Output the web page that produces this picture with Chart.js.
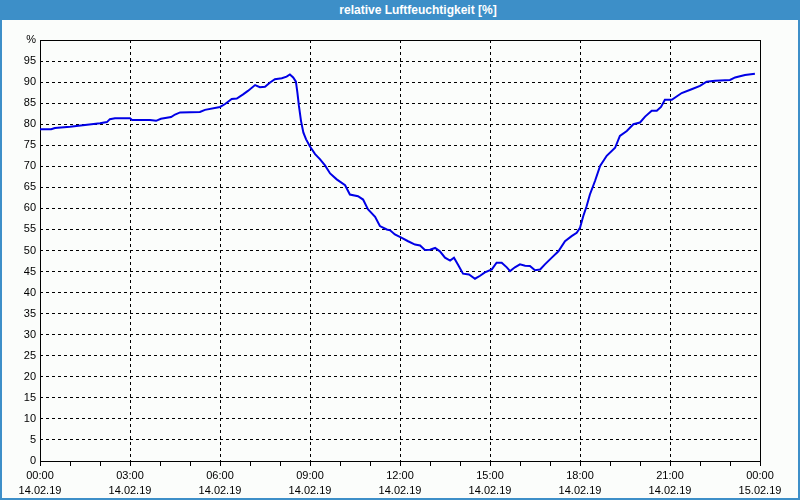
<!DOCTYPE html>
<html>
<head>
<meta charset="utf-8">
<script src="https://cdn.jsdelivr.net/npm/chart.js@4/dist/chart.umd.min.js"></script>
<style>
  html, body { margin: 0; padding: 0; }
  body { width: 800px; height: 500px; background: #3d8fc8; position: relative; overflow: hidden; }
  #titlebar {
    position: absolute; left: 0; top: 0; width: 800px; height: 20px;
    color: #fff; font: bold 12px "Liberation Sans", Arial, sans-serif;
    line-height: 20px; text-align: center; text-indent: 36px;
  }
  #box { position: absolute; left: 2px; top: 20px; width: 796px; height: 478px; background: #fbfdfb; }
</style>
</head>
<body>
<div id="titlebar">relative Luftfeuchtigkeit [%]</div>
<div id="box"><canvas id="humidity" width="796" height="478"></canvas></div>
<script>
// time in hours since 14.02.19 00:00
var hours = [0, 0.37, 0.5, 1, 1.5, 2, 2.23, 2.33, 2.5, 3, 3.07, 3.67, 3.87, 4.03, 4.37, 4.5, 4.67, 5.33, 5.5, 6,
  6.17, 6.39, 6.56, 6.77, 6.93, 7.17, 7.33, 7.5, 7.67, 7.83, 8.06, 8.22, 8.33, 8.44, 8.53, 8.58, 8.63, 8.7, 8.78, 8.87,
  9, 9.17, 9.33, 9.5, 9.67, 9.89, 10.17, 10.33, 10.6, 10.77, 10.93, 11.17, 11.33, 11.56, 11.67, 11.83, 12.06, 12.27, 12.5, 12.67,
  12.83, 13, 13.17, 13.33, 13.5, 13.67, 13.8, 13.93, 14.1, 14.3, 14.5, 14.67, 14.83, 15.06, 15.22, 15.39, 15.56, 15.67, 15.83, 16,
  16.17, 16.33, 16.5, 16.67, 16.83, 17.06, 17.28, 17.5, 17.72, 17.89, 18, 18.11, 18.22, 18.33, 18.5, 18.67, 18.89, 19.17, 19.33, 19.56,
  19.78, 20, 20.17, 20.39, 20.56, 20.7, 20.83, 21.06, 21.39, 21.72, 22, 22.22, 22.5, 23, 23.17, 23.5, 23.83];
var humidity = [78.8, 78.8, 79.1, 79.4, 79.8, 80.2, 80.5, 81.2, 81.4, 81.4, 81.0, 81.0, 80.8, 81.3, 81.7, 82.3, 82.8, 82.9, 83.4, 84.1,
  84.8, 86.0, 86.1, 87.1, 87.9, 89.3, 88.8, 88.9, 89.9, 90.7, 90.9, 91.3, 91.8, 91.1, 90.1, 87.5, 84.4, 80.8, 78.0, 76.4,
  74.7, 72.9, 71.7, 70.2, 68.3, 66.9, 65.5, 63.3, 62.9, 62.1, 59.8, 58.0, 55.8, 55.0, 54.8, 53.8, 53.0, 52.2, 51.4, 51.2,
  50.1, 50.2, 50.6, 49.8, 48.3, 47.6, 48.3, 46.7, 44.5, 44.3, 43.3, 44.0, 44.8, 45.5, 47.1, 47.1, 46.0, 45.1, 46.0, 46.7,
  46.4, 46.3, 45.3, 45.5, 46.7, 48.3, 49.8, 52.2, 53.4, 54.2, 55.4, 58.2, 60.5, 63.3, 66.5, 70.1, 72.5, 74.4, 77.2, 78.4,
  80.0, 80.4, 81.8, 83.2, 83.2, 84.1, 85.8, 85.8, 87.4, 88.3, 89.1, 90.1, 90.3, 90.5, 91.1, 91.7, 92.0];

var timeLabels = ["00:00", "03:00", "06:00", "09:00", "12:00", "15:00", "18:00", "21:00", "00:00"];
var dateLabels = ["14.02.19", "14.02.19", "14.02.19", "14.02.19", "14.02.19", "14.02.19", "14.02.19", "14.02.19", "15.02.19"];

var points = hours.map(function(h, i) { return {x: h, y: humidity[i]}; });

// solid black frame round the plot area
var frame = {
  id: 'frame',
  beforeDatasetsDraw: function(chart) {
    var a = chart.chartArea, c = chart.ctx;
    c.save();
    c.strokeStyle = '#000';
    c.lineWidth = 1;
    c.strokeRect(a.left + 0.5, a.top + 0.5, a.right - a.left, a.bottom - a.top);
    c.restore();
  }
};

var font = { family: '"Liberation Sans", Arial, sans-serif', size: 11 };

new Chart(document.getElementById('humidity').getContext('2d'), {
  type: 'line',
  data: {
    datasets: [{
      data: points,
      borderColor: '#0000e6',
      borderWidth: 2,
      pointRadius: 0,
      tension: 0,
      fill: false
    }]
  },
  options: {
    responsive: false,
    animation: false,
    layout: { padding: { left: 0, right: 38, top: 20, bottom: 0 } },
    plugins: { legend: { display: false }, tooltip: { enabled: false } },
    scales: {
      x: {
        type: 'linear',
        min: 0, max: 24,
        afterFit: function(s) { s.height = 37; },
        ticks: {
          stepSize: 1, autoSkip: false, maxRotation: 0, padding: 2,
          color: '#000', font: { family: font.family, size: 11, lineHeight: 1.4 },
          callback: function(v) {
            if (v % 3 !== 0) return '';
            return [timeLabels[v / 3], dateLabels[v / 3]];
          }
        },
        grid: {
          color: function(ctx) { return ctx.tick && ctx.tick.value % 3 === 0 ? '#000' : 'rgba(0,0,0,0)'; },
          tickColor: '#000',
          tickLength: 5,
          lineWidth: 1
        },
        border: { display: false, dash: [3, 3] }
      },
      y: {
        min: 0, max: 100,
        afterFit: function(s) { s.width = 38; },
        ticks: {
          stepSize: 5, padding: 4, color: '#000', font: font,
          callback: function(v) { return v === 100 ? '%' : v; }
        },
        grid: { color: '#000', drawTicks: false, lineWidth: 1 },
        border: { display: false, dash: [3, 3] }
      }
    }
  },
  plugins: [frame]
});
</script>
</body>
</html>
